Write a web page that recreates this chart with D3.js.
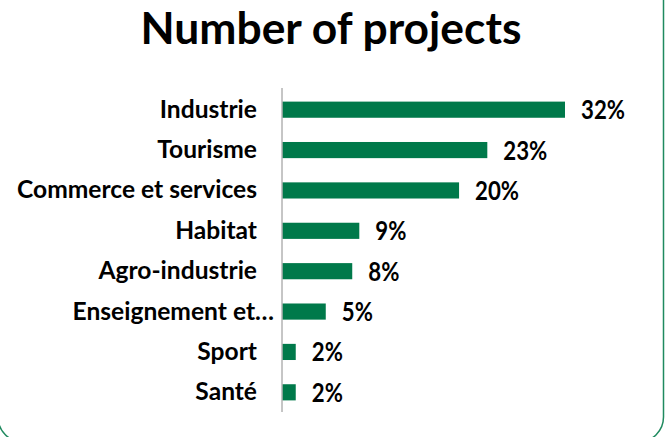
<!DOCTYPE html>
<html>
<head>
<meta charset="utf-8">
<script src="https://cdn.jsdelivr.net/npm/d3@7"></script>
<style>
  html, body { margin: 0; padding: 0; background: #fff; }
  svg { display: block; }
  text { font-family: Lato, "Open Sans", sans-serif; font-weight: bold; fill: #000; }
</style>
</head>
<body>
<svg id="chart" width="665" height="437"></svg>
<script>
const title = "Number of projects";
const categories = ["Industrie", "Tourisme", "Commerce et services", "Habitat",
  "Agro-industrie", "Enseignement et…", "Sport", "Santé"];
const shares = [0.32, 0.232, 0.20, 0.087, 0.079, 0.049, 0.015, 0.015];
const valueLabels = ["32%", "23%", "20%", "9%", "8%", "5%", "2%", "2%"];

const W = 665, H = 437;
const barColor = "#00794a";
const borderColor = "#1f8a5f";

const svg = d3.select("#chart");

// frame
svg.append("rect")
  .attr("x", -2).attr("y", -30)
  .attr("width", 665.5).attr("height", 472)
  .attr("rx", 25).attr("ry", 25)
  .attr("fill", "#fff")
  .attr("stroke", borderColor)
  .attr("stroke-width", 1.5);

function textWidth(sample, size) {
  const p = svg.append("text").style("font-size", size + "px").text(sample);
  const w = p.node().getComputedTextLength();
  p.remove();
  return w;
}
function fitSize(sample, target) {
  return 20 * target / textWidth(sample, 20);
}

// title
svg.append("text")
  .attr("x", 331).attr("y", 44)
  .attr("text-anchor", "middle")
  .style("font-size", fitSize(title, 381) + "px")
  .text(title);

const x = d3.scaleLinear().domain([0, 0.32]).range([282.5, 565]);
const y = d3.scaleBand().domain(categories).range([89.5, 412.5]).paddingInner(0.6).paddingOuter(0.3);

const labelSize = fitSize("Commerce et services", 240);
const valueSize = labelSize * 1.12;
const squeeze = 44 / textWidth("32%", valueSize);

// bars
svg.append("g").selectAll("rect")
  .data(categories)
  .join("rect")
  .attr("x", x(0))
  .attr("y", d => y(d))
  .attr("width", (d, i) => x(shares[i]) - x(0))
  .attr("height", y.bandwidth())
  .attr("fill", barColor);

// y axis
const yAxis = d3.axisLeft(y).tickSize(0).tickPadding(0);
const ag = svg.append("g").attr("transform", `translate(${x(0) - 0.5},0)`).call(yAxis);
ag.select(".domain").attr("stroke", "#8c8c8c").attr("stroke-width", 1)
  .attr("d", `M0,88V412`);
ag.selectAll(".tick text")
  .attr("x", d => d.endsWith("…") ? -8 : -25)
  .attr("dy", null)
  .attr("y", 8)
  .style("font-family", "Lato, 'Open Sans', sans-serif")
  .style("font-weight", "bold")
  .style("font-size", labelSize + "px")
  .attr("fill", "#000");

// value labels
svg.append("g").selectAll("text")
  .data(categories)
  .join("text")
  .attr("x", (d, i) => x(shares[i]) + 16)
  .attr("y", d => y(d) + y.bandwidth() / 2 + 9.5)
  .style("font-size", valueSize + "px")
  .attr("lengthAdjust", "spacingAndGlyphs")
  .attr("textLength", (d, i) => textWidth(valueLabels[i], valueSize) * squeeze)
  .text((d, i) => valueLabels[i]);
</script>
</body>
</html>
